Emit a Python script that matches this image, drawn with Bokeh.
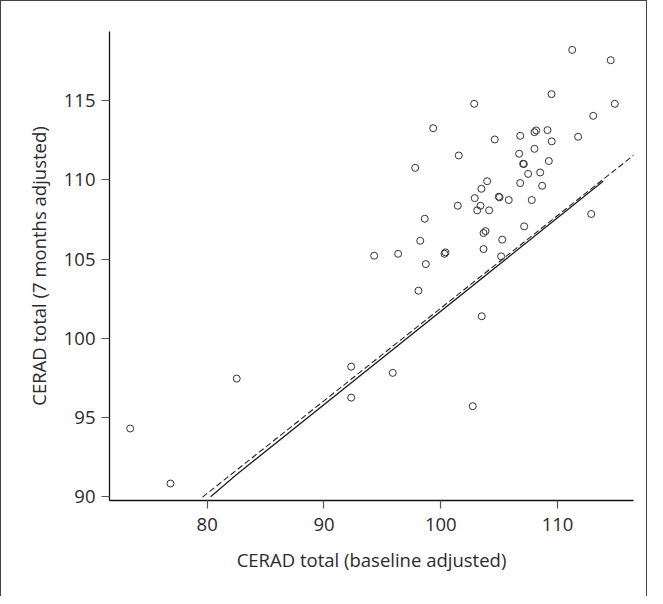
from bokeh.plotting import figure
from bokeh.models import Range1d, FixedTicker
from bokeh.embed import file_html
from bokeh.resources import INLINE

# scatter data: CERAD total baseline (x) vs 7 months (y), adjusted
baseline = [111.25, 114.55, 109.48, 102.86, 114.90, 113.05, 99.35, 106.80, 108.02, 108.17,
            109.14, 104.62, 111.76, 109.50, 101.54, 106.71, 108.02, 97.81, 107.05, 107.11,
            109.25, 107.48, 108.51, 103.97, 103.48, 106.80, 108.68, 102.91, 104.97, 105.03,
            105.82, 107.79, 101.46, 103.40, 103.12, 104.14, 98.63, 112.88, 107.14, 103.66,
            103.83, 98.24, 105.26, 94.30, 96.35, 100.32, 100.40, 103.66, 98.72, 105.17,
            98.09, 103.51, 95.89, 102.74, 92.33, 82.53, 92.33, 73.41, 76.86]
month7 = [118.19, 117.54, 115.40, 114.79, 114.79, 114.03, 113.25, 112.77, 113.00, 113.11,
          113.13, 112.54, 112.71, 112.42, 111.53, 111.64, 111.95, 110.75, 111.01, 110.99,
          111.18, 110.37, 110.46, 109.91, 109.43, 109.79, 109.62, 108.84, 108.93, 108.89,
          108.72, 108.72, 108.36, 108.36, 108.07, 108.07, 107.54, 107.84, 107.06, 106.64,
          106.76, 106.15, 106.22, 105.21, 105.33, 105.33, 105.42, 105.63, 104.68, 105.17,
          103.00, 101.39, 97.82, 95.72, 98.21, 97.46, 96.26, 94.31, 90.84]

# fitted lines
solid_x = [80.3, 82.5, 113.9]
solid_y = [90.0, 91.4, 109.9]
dashed_x = [79.6, 116.6]
dashed_y = [89.98, 111.6]

x_ticks = [80, 90, 100, 110]
y_ticks = [90, 95, 100, 105, 110, 115]

FONT = "Open Sans"
TXT = "#2b2b2b"

p = figure(width=647, height=596, output_backend="svg", toolbar_location=None,
           x_range=Range1d(71.64, 116.5), y_range=Range1d(89.77, 119.35),
           min_border_left=108, min_border_right=15, min_border_top=30, min_border_bottom=97)
p.styles = {"border-left": "1.5px solid #444", "border-top": "1px solid #444",
            "border-right": "1px solid #444", "box-sizing": "border-box"}
p.outline_line_color = None
p.xgrid.visible = False
p.ygrid.visible = False
p.background_fill_color = "white"
p.border_fill_color = "white"

p.line(dashed_x, dashed_y, line_color="#222", line_width=1.1, line_dash="6 3")
p.line(solid_x, solid_y, line_color="#222", line_width=1.3)
p.scatter(baseline, month7, size=7, marker="circle", fill_color=None,
          line_color="#333", line_width=1)

for ax in (p.xaxis[0], p.yaxis[0]):
    ax.axis_line_color = "#111"
    ax.axis_line_width = 1.3
    ax.major_tick_line_color = "#555"
    ax.major_tick_line_width = 1.2
    ax.major_tick_in = 0
    ax.major_tick_out = 8
    ax.minor_tick_line_color = None
    ax.major_label_text_font = FONT
    ax.major_label_text_font_size = "18.5px"
    ax.major_label_text_color = TXT
    ax.axis_label_text_font = FONT
    ax.axis_label_text_font_size = "18.5px"
    ax.axis_label_text_font_style = "normal"
    ax.axis_label_text_color = TXT

p.xaxis[0].ticker = FixedTicker(ticks=x_ticks)
p.yaxis[0].ticker = FixedTicker(ticks=y_ticks)
p.xaxis[0].axis_label = "CERAD total (baseline adjusted)"
p.yaxis[0].axis_label = "CERAD total (7 months adjusted)"
p.xaxis[0].major_label_standoff = 9
p.xaxis[0].axis_label_standoff = 13
p.yaxis[0].major_label_standoff = 6
p.yaxis[0].axis_label_standoff = 10

open("out.html", "w").write(file_html(p, INLINE))
